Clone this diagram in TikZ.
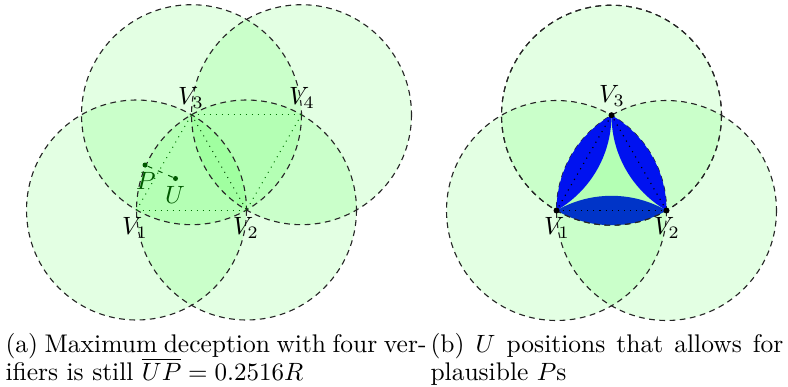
\documentclass[tikz,border=0pt]{standalone}
\usepackage{fontspec}
\begin{document}
\begin{tikzpicture}[x=0.4pt,y=-0.4pt,
  zone/.style={fill=green,fill opacity=0.11},
  rim/.style={draw=black!85,line width=0.45pt,dash pattern=on 2.3pt off 1.8pt},
  chord/.style={draw=green!45!black,line width=0.4pt,dotted},
  bchord/.style={draw=black,line width=0.45pt,dotted},
  lbl/.style={inner sep=0pt,font=\fontsize{10.2}{12}\selectfont},
  dot/.style={circle,fill,inner sep=0pt,minimum size=2pt}]
\useasboundingbox (0,0) rectangle (788,387);
\def\R{110}
% ---------- left figure ----------
\coordinate (a1) at (136.5,210);
\coordinate (a2) at (246.5,210);
\coordinate (a3) at (191.5,114.7);
\coordinate (a4) at (301.5,114.7);
\foreach \c in {a1,a2,a3,a4} \fill[zone] (\c) circle[radius=\R];
\foreach \c in {a1,a2,a3,a4} \draw[rim] (\c) circle[radius=\R];
\draw[chord] (a1) -- (a2);
\draw[chord] (a1) -- (a3);
\draw[chord] (a3) -- (a4);
\draw[chord] (a4) -- (a2);
\draw[chord,draw=green!25!black] (a3) -- (a2);
\node[dot,fill=green!35!black] (P) at (145,165) {};
\node[dot,fill=green!35!black] (U) at (175.5,178.5) {};
\draw[green!35!black,line width=0.4pt,dash pattern=on 2pt off 2.5pt] (U) -- (P);
\node[lbl] (l3) at (191,98) {$V_3$};
\node[lbl] (l4) at (302,98) {$V_4$};
\node[lbl] (l1) at (135,228) {$V_1$};
\node[lbl] (l2) at (246,228) {$V_2$};
\node[lbl,text=green!35!black] (lP) at (146,181) {$P$};
\node[lbl,text=green!35!black] (lU) at (175,195) {$U$};
% ---------- right figure ----------
\coordinate (b1) at (556.5,210.5);
\coordinate (b2) at (666.5,210.5);
\coordinate (b3) at (611.5,115.2);
\coordinate (r3) at (611.5,305.8);
\coordinate (r2) at (501.5,115.2);
\coordinate (r1) at (721.5,115.2);
\foreach \c in {b1,b2,b3} \fill[zone] (\c) circle[radius=\R];
\foreach \c in {b1,b2,b3} \draw[rim] (\c) circle[radius=\R];
\begin{scope}
  \clip (b2) circle[radius=\R];
  \fill[fill={rgb,255:red,0;green,18;blue,240}] (r2) circle[radius=\R];
\end{scope}
\begin{scope}
  \clip (b1) circle[radius=\R];
  \fill[fill={rgb,255:red,0;green,18;blue,240}] (r1) circle[radius=\R];
\end{scope}
\begin{scope}
  \clip (b3) circle[radius=\R];
  \fill[fill={rgb,255:red,0;green,52;blue,200}] (r3) circle[radius=\R];
\end{scope}
\draw[rim] (b3) circle[radius=\R];
\draw[bchord] (b1) -- (b2);
\draw[bchord] (b2) -- (b3);
\draw[bchord] (b3) -- (b1);
\node[dot,fill=black,minimum size=2.4pt] (d1) at (b1) {};
\node[dot,fill=black,minimum size=2.4pt] (d2) at (b2) {};
\node[dot,fill=black,minimum size=2.4pt] (d3) at (b3) {};
\node[lbl] (m3) at (612,96) {$V_3$};
\node[lbl] (m1) at (557,228) {$V_1$};
\node[lbl] (m2) at (667,228) {$V_2$};
% ---------- captions ----------
\node[lbl,anchor=base west] (ca1) at (5,352) {\makebox[168.4pt][s]{(a) Maximum deception with four ver-}};
\node[lbl,anchor=base west] (ca2) at (5,380) {ifiers is still $\overline{UP} = 0.2516R$};
\node[lbl,anchor=base west] (cb1) at (430,352) {\makebox[141.2pt][s]{(b) $U$ positions that allows for}};
\node[lbl,anchor=base west] (cb2) at (430,380) {plausible $P$s};
\end{tikzpicture}
\end{document}
